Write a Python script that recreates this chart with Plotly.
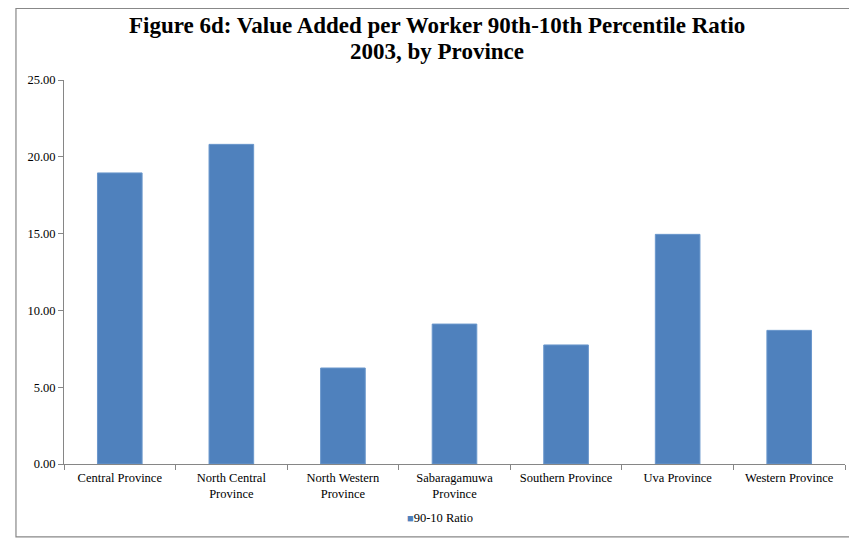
import plotly.graph_objects as go

categories = ["Central Province", "North Central<br>Province", "North Western<br>Province",
              "Sabaragamuwa<br>Province", "Southern Province", "Uva Province", "Western Province"]
values = [18.95, 20.81, 6.25, 9.11, 7.75, 14.95, 8.70]
series_name = "90-10 Ratio"
y_ticks = [0, 5, 10, 15, 20, 25]
y_tick_labels = ["0.00", "5.00", "10.00", "15.00", "20.00", "25.00"]
title_lines = ["Figure 6d: Value Added per Worker 90th-10th Percentile Ratio",
               "2003, by Province"]

FONT = "Liberation Serif, Times New Roman, serif"
BAR_COLOR = "#4F81BD"

fig = go.Figure()
fig.add_trace(go.Bar(
    x=categories, y=values, name=series_name, showlegend=False,
    marker=dict(color=BAR_COLOR, line=dict(color="#6A97CC", width=1)),
))

# page has an 8px body margin, so figure is sized to fit inside the window
fig.update_layout(
    width=849, height=532,
    margin=dict(l=56, r=12, t=72, b=76),
    paper_bgcolor="white", plot_bgcolor="white",
    font=dict(family=FONT, size=12.5, color="black"),
    bargap=0.6,
    showlegend=False,
)

fig.update_yaxes(
    range=[0, 25], tickvals=y_ticks, ticktext=y_tick_labels,
    showgrid=False, zeroline=False,
    showline=True, linecolor="#868686", linewidth=1,
    ticks="outside", ticklen=5, tickcolor="#868686",
    tickfont=dict(family=FONT, size=12.5),
)
fig.update_xaxes(
    showgrid=False, showline=True, linecolor="#868686", linewidth=1,
    ticks="outside", ticklen=5, tickcolor="#868686", tickson="boundaries",
    ticklabelstandoff=2,
    tickfont=dict(family=FONT, size=12.5),
)

# title (two lines, tight spacing)
fig.add_annotation(text="<b>" + title_lines[0] + "</b>", xref="paper", yref="paper",
                   x=0.4776, y=1.1432, xanchor="center", yanchor="middle", showarrow=False,
                   font=dict(family=FONT, size=23, color="black"))
fig.add_annotation(text="<b>" + title_lines[1] + "</b>", xref="paper", yref="paper",
                   x=0.4776, y=1.0755, xanchor="center", yanchor="middle", showarrow=False,
                   font=dict(family=FONT, size=23, color="black"))

# legend
fig.add_annotation(text="<span style='color:%s;font-size:11px'>■</span>%s" % (BAR_COLOR, series_name),
                   xref="paper", yref="paper", x=0.4814, y=-0.1406,
                   xanchor="center", yanchor="middle", showarrow=False,
                   font=dict(family=FONT, size=12.5, color="black"))

# outer chart border
fig.add_shape(type="rect", xref="paper", yref="paper",
              x0=-0.0615, x1=1.03, y0=-0.19, y1=1.1862,
              line=dict(color="#888888", width=1.2), fillcolor="rgba(0,0,0,0)", layer="below")

fig.write_html("out.html")
